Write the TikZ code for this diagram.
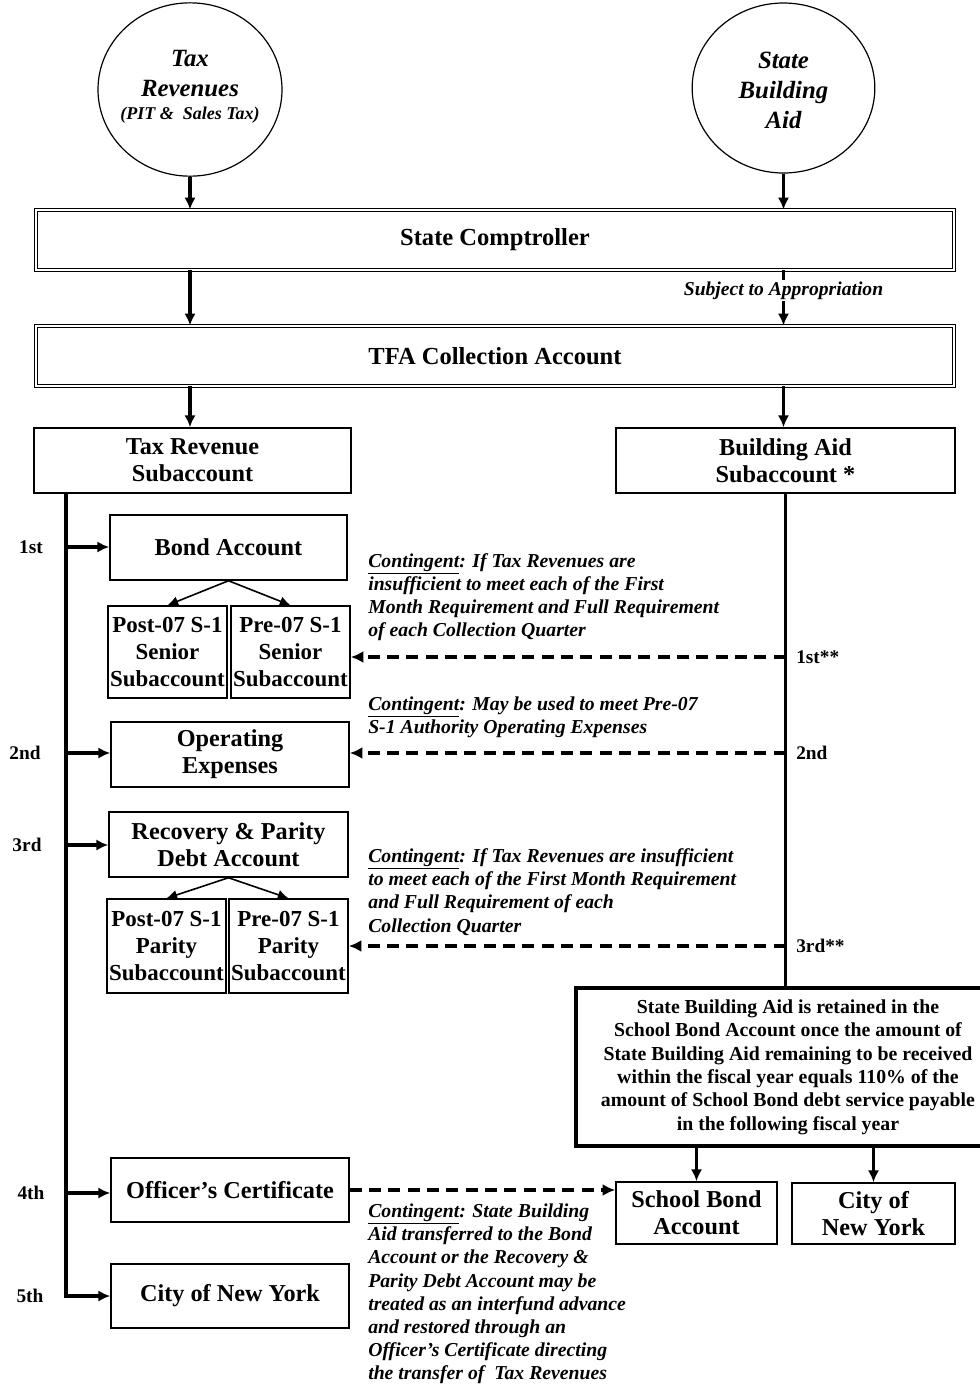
\documentclass[tikz,border=0pt]{standalone}
\usepackage{fontspec}
\setmainfont{Liberation Serif}
\usetikzlibrary{arrows.meta,shapes.geometric}
\tikzset{
    box/.style={draw,line width=1.1pt,align=center,inner sep=0pt,font=\fontsize{18.2}{20.25}\selectfont\bfseries},
    subbox/.style={box,minimum width=89.25pt,font=\fontsize{17.2}{20.25}\selectfont\bfseries},
    dblbox/.style={draw,double,double distance=2pt,line width=0.7pt,align=center,inner sep=0pt,
        minimum width=688.5pt,minimum height=45pt,font=\fontsize{18.4}{20.25}\selectfont\bfseries},
    source/.style={ellipse,draw,line width=0.9pt,inner sep=0pt},
    sourcetext/.style={align=center,inner sep=0pt,font=\fontsize{18.6}{22.5}\selectfont\bfseries\itshape},
    retainbox/.style={draw,line width=3pt,align=center,inner sep=0pt,font=\fontsize{14.85}{17.5}\selectfont\bfseries},
    note/.style={anchor=west,align=left,inner sep=0pt,font=\fontsize{14.8}{17.4}\selectfont\bfseries\itshape},
    rank/.style={inner sep=0pt,font=\fontsize{14.5}{16}\selectfont\bfseries},
    flow/.style={line width=2.6pt,-{Latex[length=9pt,width=8.5pt]}},
    split/.style={line width=1.2pt,-{Latex[length=8pt,width=7.5pt]}},
    advance/.style={line width=2.6pt,dash pattern=on 9pt off 5.5pt,-{Latex[length=9.5pt,width=9pt]}},
}
\begin{document}
\begin{tikzpicture}[x=0.75pt,y=-0.75pt]
    \useasboundingbox (0,0) rectangle (980,1386);
    \node[source,minimum width=138pt,minimum height=130pt] (taxrev) at (190,89.5) {};
    \node[sourcetext] (taxrevtext) at (190,87) {Tax\\Revenues\\[-5pt]{\fontsize{13.5}{16}\selectfont(PIT \&~~Sales Tax)}};
    \node[source,minimum width=137pt,minimum height=127.5pt] (sba) at (783.5,88) {};
    \node[sourcetext] (sbatext) at (783.5,90) {State\\Building\\Aid};
    \node[dblbox] (comp) at (495,240) {State Comptroller};
    \node[dblbox] (tfa) at (495,356) {TFA Collection Account};
    \node[box,minimum width=237.75pt,minimum height=48.75pt] (trsub) at (192.5,460.5) {Tax Revenue\\Subaccount};
    \node[box,minimum width=254.25pt,minimum height=48.75pt] (basub) at (785.5,460.5) {Building Aid\\Subaccount *};
    \node[box,minimum width=177.75pt,minimum height=48.75pt] (bond) at (228.5,547.5) {Bond Account};
    \node[subbox,minimum height=69pt] (postsen) at (167.5,652) {Post-07 S-1\\Senior\\Subaccount};
    \node[subbox,minimum height=69pt] (presen) at (290.5,652) {Pre-07 S-1\\Senior\\Subaccount};
    \node[box,minimum width=178.5pt,minimum height=48.75pt] (opex) at (230,754.5) {Operating\\Expenses};
    \node[box,minimum width=179.25pt,minimum height=48.75pt] (recov) at (228.5,844.5) {Recovery \& Parity\\Debt Account};
    \node[subbox,minimum height=70.5pt] (postpar) at (166.5,946) {Post-07 S-1\\Parity\\Subaccount};
    \node[subbox,minimum height=70.5pt] (prepar) at (288.5,946) {Pre-07 S-1\\Parity\\Subaccount};
    \node[box,minimum width=178.5pt,minimum height=48pt] (offcert) at (230,1190) {Officer’s Certificate};
    \node[box,minimum width=178.5pt,minimum height=48pt] (nyc) at (230,1296) {City of New York};
    \node[retainbox,minimum width=318pt,minimum height=118.5pt] (retain) at (788,1067) {State Building Aid is retained in the\\School Bond Account once the amount of\\State Building Aid remaining to be received\\within the fiscal year equals 110\% of the\\amount of School Bond debt service payable\\in the following fiscal year};
    \node[box,minimum width=120.75pt,minimum height=46.5pt] (sbacct) at (696.5,1213) {School Bond\\Account};
    \node[box,minimum width=122.25pt,minimum height=45.75pt] (nycity) at (873.5,1213.5) {City of\\New York};
    \node[rank] (r1) at (31,547) {1st};
    \node[rank] (r2) at (25,753) {2nd};
    \node[rank] (r3) at (27,845) {3rd};
    \node[rank] (r4) at (31,1193) {4th};
    \node[rank] (r5) at (30,1296) {5th};
    \node[rank,anchor=west] (b1) at (796,657) {1st**};
    \node[rank,anchor=west] (b2) at (796,753) {2nd};
    \node[rank,anchor=west] (b3) at (796,946) {3rd**};
    \node[note] (cont1) at (368,597) {\underline{Contingent}: If Tax Revenues are\\insufficient to meet each of the First\\Month Requirement and Full Requirement\\of each Collection Quarter};
    \node[note] (cont2) at (368,717.5) {\underline{Contingent}: May be used to meet Pre-07\\S-1 Authority Operating Expenses};
    \node[note] (cont3) at (368,892) {\underline{Contingent}: If Tax Revenues are insufficient\\to meet each of the First Month Requirement\\and Full Requirement of each\\Collection Quarter};
    \node[note] (cont4) at (368,1294) {\underline{Contingent}: State Building\\Aid transferred to the Bond\\Account or the Recovery \&\\Parity Debt Account may be\\treated as an interfund advance\\and restored through an\\Officer’s Certificate directing\\the transfer of~~Tax Revenues};
    \coordinate (trunk) at (66,493);
    \draw[flow] (taxrev.south) -- (taxrev.south |- comp.north);
    \draw[flow] (sba.south) -- (sba.south |- comp.north);
    \draw[flow] (comp.south -| taxrev) -- (tfa.north -| taxrev);
    \draw[flow] (comp.south -| sba) -- node[pos=0.36,fill=white,inner sep=1pt,font=\fontsize{14.7}{16}\selectfont\bfseries\itshape] (approp) {Subject to Appropriation} (tfa.north -| sba);
    \draw[flow] (tfa.south -| taxrev) -- (trsub.north -| taxrev);
    \draw[flow] (tfa.south -| sba) -- (basub.north -| sba);
    \draw[flow] (trunk) |- (nyc.west);
    \draw[flow] (trunk |- r1) -- (r1 -| bond.west);
    \draw[flow] (trunk |- r2) -- (r2 -| opex.west);
    \draw[flow] (trunk |- r3) -- (r3 -| recov.west);
    \draw[flow] (trunk |- r4) -- (r4 -| offcert.west);
    \draw[split] (bond.south) -- (postsen.north);
    \draw[split] (bond.south) -- (presen.north);
    \draw[split] (recov.south) -- (postpar.north);
    \draw[split] (recov.south) -- (prepar.north);
    \draw[line width=2.6pt] (basub.south) -- (basub.south |- retain.north);
    \draw[advance] (b1.west -| basub.south) -- (b1.west -| presen.east);
    \draw[advance] (b2.west -| basub.south) -- (b2.west -| opex.east);
    \draw[advance] (b3.west -| basub.south) -- (b3.west -| prepar.east);
    \draw[advance] (offcert.east) -- (offcert.east -| sbacct.west);
    \draw[flow] (retain.south -| sbacct) -- (sbacct.north);
    \draw[flow] (retain.south -| nycity) -- (nycity.north);
\end{tikzpicture}
\end{document}
